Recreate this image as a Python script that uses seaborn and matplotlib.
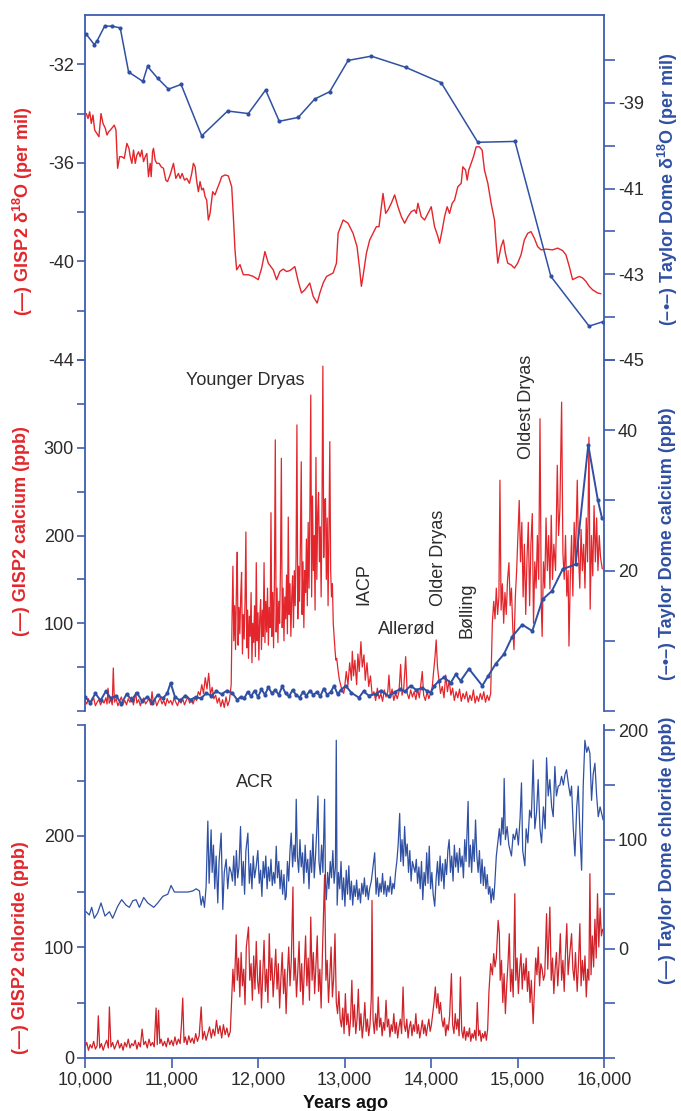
import matplotlib
matplotlib.use("Agg")
import matplotlib.pyplot as plt
import seaborn as sns

sns.set_style("white")
plt.rcParams['font.family'] = ['Liberation Sans', 'DejaVu Sans']
plt.rcParams['axes.unicode_minus'] = False
plt.rcParams['mathtext.fontset'] = 'custom'
plt.rcParams['mathtext.rm'] = 'Liberation Sans'
plt.rcParams['mathtext.bf'] = 'Liberation Sans:bold'

# ---------------- DATA ----------------
# GISP2 d18O (per mil)
gisp_d18o_years = [10015, 10035, 10054, 10073, 10092, 10112, 10138, 10161, 10185, 10208, 10235, 10254, 10273, 10292, 10323, 10338, 10358, 10377, 10400, 10427, 10454, 10484, 10508, 10523, 10542, 10561, 10581, 10600, 10619, 10638, 10657, 10677, 10696, 10715, 10734, 10754, 10765, 10781, 10792, 10811, 10830, 10857, 10881, 10907, 10934, 10954, 10984, 11023, 11050, 11080, 11100, 11123, 11150, 11177, 11207, 11234, 11253, 11273, 11292, 11311, 11330, 11350, 11369, 11388, 11407, 11426, 11446, 11476, 11503, 11523, 11561, 11580, 11619, 11657, 11696, 11715, 11734, 11753, 11792, 11830, 11888, 11946, 12003, 12042, 12080, 12119, 12176, 12215, 12253, 12292, 12330, 12369, 12426, 12465, 12503, 12542, 12599, 12638, 12684, 12715, 12753, 12792, 12830, 12868, 12907, 12926, 12984, 13041, 13099, 13145, 13176, 13195, 13214, 13253, 13291, 13330, 13368, 13399, 13426, 13445, 13476, 13503, 13541, 13580, 13618, 13657, 13695, 13734, 13772, 13811, 13830, 13849, 13887, 13926, 13964, 14003, 14041, 14080, 14099, 14130, 14157, 14187, 14214, 14245, 14272, 14310, 14349, 14368, 14399, 14418, 14437, 14464, 14491, 14522, 14560, 14591, 14618, 14657, 14695, 14734, 14753, 14772, 14810, 14837, 14860, 14887, 14926, 14964, 15002, 15041, 15079, 15118, 15156, 15195, 15233, 15272, 15329, 15406, 15464, 15522, 15560, 15599, 15637, 15676, 15714, 15753, 15791, 15829, 15868, 15925, 15964]
gisp_d18o_vals = [-34.00, -34.20, -33.93, -34.40, -34.06, -34.67, -34.81, -34.94, -34.00, -34.40, -34.60, -34.87, -34.74, -34.67, -34.54, -34.47, -34.67, -36.22, -35.75, -35.75, -35.82, -35.21, -35.41, -35.75, -36.02, -35.48, -36.02, -35.68, -35.55, -35.75, -35.48, -35.95, -35.75, -35.62, -36.56, -36.02, -36.56, -35.55, -35.41, -35.89, -36.02, -36.02, -36.16, -36.22, -36.70, -36.76, -36.49, -36.02, -36.63, -36.43, -36.63, -36.43, -36.70, -36.63, -36.83, -36.43, -36.02, -36.16, -36.76, -37.17, -36.76, -37.10, -37.03, -37.37, -37.51, -38.32, -38.05, -37.17, -37.30, -37.10, -36.76, -36.56, -36.49, -36.53, -36.97, -38.18, -39.53, -40.34, -40.13, -40.54, -40.54, -40.61, -40.74, -40.27, -39.60, -40.07, -40.34, -40.74, -40.41, -40.31, -40.41, -40.37, -40.21, -40.81, -41.28, -41.15, -40.88, -41.42, -41.69, -41.28, -40.88, -40.61, -40.54, -40.47, -40.07, -38.86, -38.32, -38.45, -38.86, -39.40, -40.34, -41.01, -40.61, -39.67, -39.13, -38.86, -38.59, -38.59, -37.78, -37.24, -38.05, -37.91, -37.64, -37.30, -37.78, -38.18, -38.45, -38.18, -37.98, -37.91, -38.05, -37.64, -38.18, -38.32, -38.05, -37.78, -38.59, -38.99, -39.26, -38.72, -38.18, -37.78, -38.05, -37.64, -37.51, -36.97, -36.83, -36.16, -36.29, -36.70, -36.29, -36.02, -35.75, -35.35, -35.35, -35.48, -36.29, -36.83, -37.64, -38.32, -39.26, -40.07, -39.40, -39.13, -39.67, -40.07, -40.14, -40.27, -40.07, -39.73, -39.13, -38.86, -38.79, -39.06, -39.40, -39.53, -39.50, -39.53, -39.46, -39.56, -39.73, -40.21, -40.74, -40.67, -40.61, -40.67, -40.81, -41.01, -41.15, -41.28, -41.31]

# Taylor Dome d18O (per mil)
taylor_d18o_years = [10015, 10107, 10138, 10227, 10311, 10407, 10504, 10669, 10723, 10842, 10965, 11111, 11349, 11649, 11888, 12088, 12246, 12465, 12656, 12829, 13042, 13310, 13706, 14118, 14541, 14971, 15386, 15828, 15983]
taylor_d18o_vals = [-37.40, -37.64, -37.56, -37.21, -37.21, -37.25, -38.28, -38.50, -38.15, -38.43, -38.68, -38.57, -39.77, -39.19, -39.25, -38.70, -39.43, -39.34, -38.91, -38.74, -38.01, -37.91, -38.17, -38.53, -39.92, -39.90, -43.05, -44.21, -44.11]

# GISP2 calcium (ppb)
gisp_ca_years = [10000, 10020, 10040, 10060, 10080, 10100, 10120, 10140, 10160, 10180, 10200, 10220, 10240, 10255, 10266, 10280, 10300, 10315, 10327, 10340, 10360, 10380, 10400, 10420, 10440, 10460, 10480, 10500, 10520, 10540, 10560, 10586, 10600, 10620, 10640, 10660, 10680, 10700, 10720, 10740, 10760, 10775, 10790, 10810, 10830, 10850, 10870, 10890, 10910, 10930, 10950, 10970, 10990, 11010, 11030, 11050, 11070, 11090, 11110, 11130, 11150, 11170, 11190, 11210, 11230, 11250, 11270, 11290, 11310, 11330, 11350, 11370, 11390, 11410, 11430, 11450, 11470, 11490, 11510, 11530, 11550, 11570, 11590, 11610, 11630, 11650, 11670,
                11690, 11700, 11710, 11720, 11730, 11740, 11750, 11760, 11770, 11780, 11790, 11800, 11810, 11820, 11830, 11840, 11850, 11860, 11870, 11880, 11890, 11900, 11910, 11920, 11930, 11940, 11950, 11960, 11970, 11980, 11990, 12000, 12010, 12020, 12030, 12040, 12050, 12060, 12070, 12080, 12090, 12100, 12110, 12120, 12130, 12140, 12150, 12160, 12170, 12180, 12190, 12200, 12210, 12220, 12230, 12240, 12250, 12260, 12270, 12280, 12290, 12300, 12310, 12320, 12330, 12340, 12350, 12360, 12370, 12380, 12390, 12400, 12410, 12420, 12430, 12440, 12450, 12460, 12470, 12480, 12490, 12500, 12510, 12520, 12530, 12540, 12550, 12560, 12570, 12580, 12590, 12600, 12610, 12620, 12630, 12640, 12650, 12660, 12670, 12680, 12690, 12700, 12710, 12720, 12730, 12740, 12750, 12760, 12770, 12780, 12790, 12800, 12810, 12820, 12830, 12840, 12850, 12860, 12870, 12880, 12890, 12900, 12910, 12925, 12940, 12955, 12970, 12990,
                13000, 13020, 13040, 13060, 13080, 13090, 13105, 13120, 13140, 13155, 13170, 13190, 13205, 13225, 13240, 13260, 13280, 13300, 13320, 13340, 13360, 13380, 13400, 13420, 13440, 13460, 13480, 13500, 13514, 13530, 13550, 13570, 13590, 13610, 13630, 13649, 13665, 13685, 13707, 13725, 13745, 13765, 13785, 13805, 13825, 13845, 13865, 13880, 13899, 13915, 13935, 13955, 13975, 13995, 14015, 14030, 14045, 14060, 14075, 14092, 14110, 14130, 14150, 14170, 14190, 14210, 14230, 14250, 14270, 14290, 14310, 14330, 14350, 14370, 14390, 14410, 14430, 14450, 14470, 14490, 14510, 14530, 14550, 14570, 14590, 14610, 14630, 14650, 14670, 14690,
                14709, 14725, 14740, 14755, 14770, 14785, 14797, 14810, 14825, 14840, 14855, 14870, 14885, 14901, 14915, 14930, 14945, 14959, 14975, 14990, 15005, 15020, 15035, 15050, 15065, 15080, 15095, 15110, 15125, 15140, 15155, 15171, 15185, 15200, 15215, 15230, 15245, 15260, 15275, 15285, 15300, 15315, 15330, 15345, 15360, 15375, 15390, 15405, 15420, 15440, 15460, 15475, 15490, 15510, 15525, 15540, 15555, 15570, 15585, 15595, 15610, 15625, 15640, 15655, 15670, 15691, 15705, 15720, 15735, 15750, 15765, 15780, 15795, 15810, 15826, 15840, 15855, 15870, 15885, 15900, 15915, 15930, 15945, 15960, 15980]
gisp_ca_vals = [12, 8, 14, 7, 11, 15, 6, 10, 13, 7, 12, 9, 15, 8, 26, 9, 13, 7, 49, 10, 14, 6, 11, 16, 8, 12, 7, 14, 10, 16, 7, 21, 9, 13, 6, 12, 15, 8, 11, 14, 7, 22, 9, 13, 6, 11, 15, 8, 12, 6, 14, 9, 12, 7, 15, 10, 6, 13, 9, 14, 7, 12, 16, 9, 13, 8, 15, 12, 22, 18, 30, 20, 38, 25, 43, 19, 27, 14, 18, 9, 15, 5, 13, 4, 16, 6, 12,
                30, 105, 165, 80, 120, 70, 135, 181, 75, 118, 88, 130, 158, 65, 110, 82, 125, 204, 72, 115, 60, 108, 85, 135, 55, 100, 78, 120, 62, 169, 80, 112, 58, 105, 127, 70, 115, 85, 169, 78, 125, 90, 140, 75, 118, 95, 226, 85, 135, 72, 150, 309, 90, 140, 78, 125, 100, 165, 288, 95, 140, 80, 130, 105, 155, 88, 221, 110, 145, 85, 130, 154, 95, 160, 120, 175, 326, 105, 165, 125, 190, 284, 110, 170, 95, 160, 135, 196, 120, 215, 140, 230, 360, 130, 245, 160, 200, 115, 289, 150, 225, 249, 170, 210, 130, 235, 393, 175, 240, 242, 150, 220, 120, 200, 307, 160, 130, 145, 100, 85, 70, 58, 60, 47, 36, 30, 24, 20,
                25, 45, 30, 55, 35, 68, 40, 58, 30, 65, 45, 79, 50, 64, 35, 55, 28, 40, 18, 22, 12, 26, 14, 20, 11, 24, 16, 22, 41, 15, 25, 12, 20, 14, 22, 53, 18, 26, 62, 20, 14, 24, 16, 22, 13, 25, 15, 28, 45, 18, 12, 22, 14, 20, 28, 45, 60, 81, 50, 35, 20, 28, 15, 41, 22, 35, 18, 26, 12, 22, 15, 25, 11, 20, 14, 22, 10, 18, 12, 24, 9, 17, 11, 20, 13, 22, 10, 18, 12, 20,
                100, 125, 105, 140, 110, 130, 263, 115, 145, 100, 135, 110, 150, 169, 120, 140, 95, 70, 130, 160, 200, 240, 170, 215, 130, 190, 110, 175, 215, 120, 190, 225, 100, 170, 140, 200, 150, 333, 120, 85, 170, 140, 220, 160, 200, 139, 223, 150, 190, 160, 280, 200, 230, 352, 180, 150, 200, 131, 160, 74, 150, 200, 131, 215, 170, 263, 180, 140, 207, 160, 190, 140, 220, 170, 312, 116, 200, 154, 234, 170, 220, 160, 200, 175, 162]

# Taylor Dome calcium (ppb)
taylor_ca_years = [10000, 10060, 10120, 10180, 10240, 10300, 10360, 10420, 10480, 10540, 10600, 10660, 10720, 10780, 10840, 10900, 10950, 10990, 11040, 11100, 11160, 11220, 11280, 11340, 11400, 11460, 11520, 11580, 11640, 11700, 11760, 11800, 11840, 11880, 11920, 11960, 12000, 12040, 12080, 12120, 12160, 12200, 12240, 12280, 12320, 12360, 12400, 12440, 12480, 12520, 12560, 12600, 12640, 12680, 12720, 12760, 12800, 12840, 12880, 12920, 12960, 13013, 13080, 13167, 13220, 13280, 13360, 13420, 13514, 13580, 13640, 13700, 13764, 13830, 13899, 13950, 13996, 14040, 14092, 14150, 14227, 14285, 14342, 14439, 14593, 14662, 14747, 14843, 14939, 15055, 15171, 15290, 15398, 15522, 15672, 15818, 15928, 15976]
taylor_ca_vals = [2.0, 1.2, 2.5, 1.5, 2.8, 1.8, 2.2, 1.0, 2.4, 1.6, 2.6, 1.4, 2.0, 1.2, 2.3, 1.8, 2.5, 4.0, 2.0, 1.5, 2.2, 1.6, 2.0, 1.8, 2.5, 2.2, 2.8, 2.4, 2.9, 2.6, 1.6, 2.0, 1.8, 2.7, 2.1, 2.9, 2.0, 3.1, 2.3, 3.4, 2.5, 3.0, 2.3, 3.5, 2.5, 2.1, 3.0, 2.3, 1.9, 2.7, 2.2, 2.9, 2.3, 2.7, 2.1, 3.2, 2.3, 2.7, 3.6, 2.4, 3.0, 3.6, 2.6, 1.9, 2.8, 2.2, 2.4, 2.9, 2.1, 2.7, 3.1, 2.8, 3.6, 3.0, 3.3, 2.9, 2.6, 3.6, 4.3, 4.8, 4.0, 5.2, 4.3, 6.0, 3.6, 5.0, 6.7, 8.1, 10.6, 12.3, 11.4, 15.9, 17.1, 20.2, 20.9, 37.9, 30.1, 27.5]

# GISP2 chloride (ppb)
gisp_cl_years = [10000, 10020, 10040, 10060, 10080, 10100, 10120, 10140, 10154, 10170, 10190, 10210, 10230, 10250, 10270, 10282, 10300, 10320, 10340, 10360, 10380, 10400, 10420, 10440, 10460, 10480, 10500, 10520, 10540, 10560, 10580, 10600, 10620, 10640, 10660, 10680, 10700, 10720, 10740, 10760, 10780, 10800, 10822, 10835, 10850, 10865, 10880, 10900, 10920, 10940, 10960, 10980, 11000, 11020, 11040, 11060, 11080, 11100, 11115, 11130, 11145, 11160, 11180, 11200, 11220, 11240, 11260, 11280, 11300, 11320, 11343, 11360, 11380, 11400, 11420, 11440, 11460, 11480, 11500, 11520, 11540, 11560, 11580, 11600, 11620, 11640, 11660, 11680,
                11695, 11710, 11725, 11748, 11760, 11775, 11790, 11805, 11820, 11835, 11850, 11865, 11890, 11905, 11920, 11935, 11950, 11965, 11980, 11995, 12010, 12025, 12040, 12055, 12070, 12085, 12100, 12115, 12130, 12145, 12160, 12175, 12190, 12205, 12220, 12235, 12250, 12265, 12280, 12295, 12310, 12325, 12340, 12355, 12370, 12385, 12404, 12415, 12430, 12445, 12460, 12475, 12490, 12505, 12520, 12535, 12550, 12565, 12580, 12595, 12610, 12625, 12640, 12655, 12670, 12685, 12700, 12715, 12730, 12745, 12770, 12785, 12800, 12815, 12830, 12845, 12860, 12875, 12890, 12905, 12920, 12935, 12950,
                12965, 12980, 12995, 13010, 13025, 13040, 13055, 13070, 13085, 13100, 13115, 13130, 13145, 13160, 13175, 13190, 13205, 13220, 13235, 13250, 13265, 13280, 13295, 13310, 13318, 13330, 13345, 13360, 13375, 13390, 13405, 13420, 13435, 13450, 13465, 13480, 13495, 13510, 13525, 13540, 13555, 13570, 13585, 13600, 13615, 13630, 13645, 13660, 13677, 13690, 13705, 13720, 13735, 13750, 13765, 13780, 13795, 13810, 13825, 13840, 13855, 13870, 13885, 13900, 13915, 13930, 13945, 13960, 13975, 13990, 14005, 14020, 14035, 14050, 14065, 14080, 14095, 14110, 14125, 14140, 14155, 14170, 14185, 14200, 14215, 14236, 14250, 14265, 14280, 14295, 14310, 14325, 14340, 14355, 14370, 14385, 14400, 14415, 14430, 14445, 14460, 14475, 14490, 14505, 14520, 14535, 14550, 14565, 14580, 14595, 14610, 14625, 14640, 14655,
                14670, 14690, 14710, 14725, 14740, 14755, 14776, 14790, 14800, 14815, 14830, 14845, 14860, 14875, 14890, 14905, 14920, 14935, 14950, 14969, 14980, 14995, 15010, 15025, 15040, 15055, 15070, 15085, 15100, 15115, 15130, 15145, 15160, 15181, 15195, 15210, 15225, 15240, 15255, 15270, 15285, 15300, 15315, 15336, 15350, 15374, 15390, 15405, 15420, 15435, 15450, 15465, 15480, 15495, 15510, 15525, 15540, 15555, 15570, 15585, 15600, 15625, 15640, 15655, 15670, 15690, 15705, 15721, 15735, 15750, 15765, 15780, 15795, 15810, 15825, 15837, 15850, 15865, 15880, 15895, 15910, 15925, 15940, 15955, 15970, 15985]
gisp_cl_vals = [10, 14, 7, 12, 9, 15, 8, 11, 38, 9, 13, 7, 12, 16, 9, 46, 10, 14, 8, 12, 16, 9, 13, 7, 14, 10, 17, 9, 13, 11, 16, 8, 14, 10, 26, 12, 15, 9, 17, 11, 14, 10, 45, 12, 43, 13, 17, 11, 15, 10, 18, 12, 16, 11, 19, 12, 17, 13, 30, 54, 14, 19, 12, 20, 14, 18, 13, 22, 15, 20, 46, 17, 24, 16, 22, 28, 18, 26, 20, 34, 22, 29, 18, 30, 21, 27, 19, 24,
                52, 80, 60, 111, 70, 90, 55, 95, 65, 80, 48, 100, 118, 70, 85, 52, 92, 62, 105, 70, 58, 88, 45, 75, 106, 60, 80, 50, 112, 70, 90, 55, 75, 98, 62, 85, 45, 72, 95, 58, 80, 40, 75, 100, 65, 88, 154, 70, 90, 55, 78, 105, 60, 85, 48, 80, 110, 65, 90, 52, 127, 70, 95, 58, 85, 110, 60, 80, 45, 95, 165, 70, 88, 50, 75, 100, 55, 72, 112, 50, 40, 60, 35,
                28, 45, 22, 58, 30, 40, 20, 35, 70, 28, 48, 22, 35, 62, 25, 40, 18, 30, 50, 24, 35, 20, 30, 55, 142, 35, 22, 40, 25, 55, 28, 36, 20, 32, 25, 52, 28, 35, 19, 30, 24, 40, 22, 32, 18, 28, 35, 22, 64, 30, 24, 35, 18, 28, 33, 20, 30, 24, 40, 22, 30, 18, 26, 34, 22, 30, 20, 28, 35, 24, 30, 40, 50, 64, 45, 58, 40, 50, 35, 28, 36, 20, 30, 25, 38, 76, 30, 22, 40, 26, 35, 20, 73, 25, 18, 28, 16, 24, 19, 27, 15, 22, 18, 25, 16, 50, 20, 25, 15, 22, 18, 24, 16, 26,
                60, 85, 75, 94, 82, 90, 124, 112, 70, 88, 50, 76, 40, 65, 85, 112, 60, 80, 55, 148, 70, 90, 58, 80, 94, 62, 85, 70, 90, 60, 78, 50, 70, 31, 60, 90, 75, 100, 65, 85, 80, 70, 75, 130, 80, 136, 70, 90, 58, 80, 95, 65, 85, 112, 70, 88, 60, 95, 121, 75, 90, 112, 80, 70, 95, 60, 85, 121, 65, 88, 70, 92, 55, 80, 70, 166, 75, 110, 82, 125, 90, 148, 100, 135, 110, 116]

# Taylor Dome chloride (ppb)
taylor_cl_years = [10012, 10050, 10077, 10108, 10147, 10185, 10231, 10282, 10320, 10378, 10424, 10475, 10513, 10552, 10590, 10629, 10679, 10725, 10795, 10841, 10899, 10957, 10995, 11034, 11111, 11188, 11246, 11285, 11323, 11343, 11362, 11381,
                   11400, 11420, 11435, 11458, 11470, 11485, 11500, 11516, 11535, 11550, 11574, 11593, 11610, 11632, 11650, 11670, 11690, 11705, 11720, 11735, 11750, 11765, 11780, 11798, 11815, 11830, 11845, 11860, 11883, 11900, 11915, 11930, 11945, 11960, 11980, 11998, 12015, 12030, 12045, 12060, 12075, 12090, 12105, 12120, 12135, 12150, 12165, 12180, 12195, 12211, 12225, 12240, 12255, 12270, 12285, 12300, 12315, 12326, 12340, 12355, 12370, 12384, 12400, 12415, 12430, 12442, 12455, 12470, 12485, 12500, 12515, 12530, 12545, 12560, 12575, 12590, 12605, 12620, 12635, 12650, 12665, 12680, 12693, 12705, 12720, 12735, 12750, 12770, 12780, 12790, 12805, 12820, 12835, 12850, 12865, 12880, 12895, 12905, 12915, 12930, 12945, 12960,
                   12975, 12990, 13005, 13020, 13035, 13050, 13065, 13080, 13095, 13110, 13125, 13140, 13155, 13170, 13185, 13200, 13215, 13230, 13245, 13260, 13275, 13290, 13310, 13349, 13365, 13380, 13395, 13410, 13425, 13440, 13455, 13470, 13485, 13500, 13515, 13530, 13545, 13560, 13575, 13590, 13605, 13620, 13638, 13650, 13665, 13680, 13695, 13710, 13725, 13740, 13755, 13770, 13785, 13800, 13815, 13830, 13845, 13860, 13875, 13890, 13905, 13920, 13935, 13950, 13965, 13980, 13995, 14010, 14025, 14043, 14060, 14075, 14090, 14105, 14120, 14135, 14150, 14165, 14180, 14195, 14210, 14225, 14240, 14255, 14270, 14285, 14300, 14315, 14330, 14345, 14360, 14375, 14390, 14405, 14429, 14440, 14455, 14470, 14485, 14500, 14515, 14530, 14545, 14560, 14575, 14590, 14605, 14620, 14635, 14650, 14665, 14680, 14695, 14710, 14725, 14738,
                   14755, 14776, 14790, 14805, 14820, 14835, 14846, 14860, 14880, 14900, 14930, 14950, 14969, 14990, 15010, 15030, 15046, 15060, 15085, 15100, 15120, 15140, 15160, 15181, 15200, 15220, 15239, 15260, 15278, 15300, 15320, 15336, 15355, 15374, 15395, 15413, 15432, 15450, 15471, 15490, 15509, 15530, 15550, 15567, 15590, 15610, 15625, 15645, 15664, 15685, 15702, 15720, 15741, 15760, 15779, 15800, 15818, 15837, 15856, 15875, 15895, 15915, 15934, 15955, 15972, 15990]
taylor_cl_vals = [34, 31, 38, 28, 33, 42, 30, 34, 28, 39, 45, 40, 38, 44, 45, 38, 47, 42, 38, 42, 48, 50, 58, 52, 52, 52, 53, 55, 53, 40, 48, 38,
                  57, 117, 60, 109, 70, 95, 55, 85, 42, 80, 106, 36, 70, 82, 55, 75, 70, 62, 85, 58, 90, 65, 75, 112, 58, 80, 50, 90, 106, 60, 78, 55, 85, 65, 76, 90, 60, 72, 48, 80, 65, 85, 55, 75, 62, 82, 58, 70, 60, 94, 65, 80, 55, 72, 50, 68, 45, 48, 80, 62, 90, 106, 75, 95, 80, 137, 85, 70, 100, 75, 88, 60, 95, 70, 82, 55, 90, 70, 105, 65, 85, 110, 140, 80, 68, 95, 70, 137, 60, 45, 70, 55, 80, 65, 90, 60, 75, 191, 40, 70, 55, 80,
                  45, 65, 39, 72, 50, 76, 45, 62, 40, 58, 48, 63, 45, 55, 42, 60, 50, 65, 48, 58, 45, 55, 62, 88, 50, 65, 48, 60, 52, 69, 50, 62, 48, 58, 52, 66, 50, 60, 55, 70, 80, 95, 124, 80, 100, 76, 112, 85, 96, 70, 90, 62, 80, 75, 70, 82, 60, 75, 55, 80, 45, 70, 58, 88, 60, 94, 55, 70, 50, 39, 65, 80, 58, 85, 62, 78, 55, 82, 68, 90, 100, 70, 85, 62, 95, 75, 88, 70, 92, 75, 85, 65, 100, 80, 135, 75, 95, 70, 100, 80, 118, 85, 70, 90, 60, 82, 58, 75, 55, 68, 50, 57, 42, 55, 45, 60,
                  85, 100, 110, 95, 120, 105, 156, 100, 112, 95, 85, 105, 100, 110, 95, 120, 152, 90, 76, 110, 97, 127, 120, 173, 110, 125, 155, 110, 97, 130, 110, 175, 140, 155, 130, 121, 167, 140, 149, 150, 158, 150, 160, 164, 150, 140, 149, 110, 85, 130, 149, 110, 72, 150, 191, 180, 185, 179, 136, 160, 170, 140, 121, 130, 124, 118]

x_ticks = [10000, 11000, 12000, 13000, 14000, 15000, 16000]
x_tick_labels = ['10,000', '11,000', '12,000', '13,000', '14,000', '15,000', '16,000']

events_mid = ['Younger Dryas', 'IACP', 'Allerød', 'Older Dryas', 'Bølling', 'Oldest Dryas']

# ---------------- STYLE ----------------
RED = '#e3262b'
RED_DARK = '#cf2229'
BLUE = '#2f50a3'
SPINE = '#3f5db0'
TXT = '#2b2b2b'
FS = 13

fig = plt.figure(figsize=(6.81, 11.11), dpi=100)
fig.patch.set_facecolor('white')
L = 85 / 681
W = 519 / 681
ax1 = fig.add_axes([L, 1 - 360 / 1111, W, 345 / 1111])
ax2 = fig.add_axes([L, 1 - 711 / 1111, W, 351 / 1111], sharex=ax1)
ax3 = fig.add_axes([L, 1 - 1058 / 1111, W, 333 / 1111], sharex=ax1)
ax1r = ax1.twinx()
ax2r = ax2.twinx()
ax3r = ax3.twinx()

# ---------------- PLOTS ----------------
sns.lineplot(x=gisp_d18o_years, y=gisp_d18o_vals, ax=ax1, color=RED, lw=1.0,
             estimator=None, sort=False)
sns.lineplot(x=taylor_d18o_years, y=taylor_d18o_vals, ax=ax1r, color=BLUE, lw=1.1,
             marker='o', markersize=3, markeredgewidth=0, estimator=None, sort=False)

sns.lineplot(x=gisp_ca_years, y=gisp_ca_vals, ax=ax2, color=RED, lw=0.9,
             estimator=None, sort=False)
sns.lineplot(x=taylor_ca_years, y=taylor_ca_vals, ax=ax2r, color=BLUE, lw=1.4,
             marker='o', markersize=3, markeredgewidth=0, estimator=None, sort=False)

sns.lineplot(x=gisp_cl_years, y=gisp_cl_vals, ax=ax3, color=RED_DARK, lw=0.9,
             estimator=None, sort=False)
sns.lineplot(x=taylor_cl_years, y=taylor_cl_vals, ax=ax3r, color=BLUE, lw=0.9,
             estimator=None, sort=False)

# ---------------- AXES ----------------
ax1.set_xlim(10000, 16000)
ax1.set_ylim(-44, -30)
ax1r.set_ylim(-45, -36.95)
ax2.set_ylim(0, 400)
ax2r.set_ylim(0, 50)
ax3.set_ylim(0, 300)
ax3r.set_ylim(-100, 205)

ax1.set_yticks([-44, -42, -40, -38, -36, -34, -32], ['-44', '', '-40', '', '-36', '', '-32'])
ax1r.set_yticks([-45, -44, -43, -42, -41, -40, -39, -38], ['-45', '', '-43', '', '-41', '', '-39', ''])
ax2.set_yticks([0, 50, 100, 150, 200, 250, 300, 350, 400], ['', '', '100', '', '200', '', '300', '', ''])
ax2r.set_yticks([0, 10, 20, 30, 40, 50], ['', '', '20', '', '40', ''])
ax3.set_yticks([0, 50, 100, 150, 200, 250, 300], ['0', '', '100', '', '200', '', ''])
ax3r.set_yticks([-100, -50, 0, 50, 100, 150, 200], ['', '', '0', '', '100', '', '200'])
ax3.set_xticks(x_ticks, x_tick_labels)

for a in (ax1, ax2, ax3, ax1r, ax2r, ax3r):
    a.set_facecolor('none')
    a.set_xlabel('')
    a.set_ylabel('')
    for s in a.spines.values():
        s.set_color(SPINE)
        s.set_linewidth(1.3)
        s.set_visible(False)
    a.tick_params(axis='both', direction='out', length=6, width=1.2, color=SPINE,
                  labelcolor=TXT, labelsize=FS, pad=2)

for a in (ax1, ax2, ax3):
    a.spines['left'].set_visible(True)
for a in (ax1r, ax2r, ax3r):
    a.spines['right'].set_visible(True)
    a.tick_params(axis='y', length=8)
ax1.spines['top'].set_visible(True)
ax3.spines['bottom'].set_visible(True)

ax1.tick_params(axis='x', bottom=False, labelbottom=False)
ax2.tick_params(axis='x', bottom=False, labelbottom=False)
ax3.tick_params(axis='x', bottom=True, labelbottom=True, length=7, pad=3)

# ---------------- TEXT ----------------
ax2.text(11858, 377, events_mid[0], fontsize=FS, color=TXT, ha='center', va='center')
ax2.text(13225, 145, events_mid[1], fontsize=FS, color=TXT, ha='center', va='center', rotation=90)
ax2.text(13715, 93, events_mid[2], fontsize=FS, color=TXT, ha='center', va='center')
ax2.text(14092, 174, events_mid[3], fontsize=FS, color=TXT, ha='center', va='center', rotation=90)
ax2.text(14412, 115, events_mid[4], fontsize=FS, color=TXT, ha='center', va='center', rotation=90)
ax2.text(15106, 347, events_mid[5], fontsize=FS, color=TXT, ha='center', va='center', rotation=90)
ax3.text(11968, 248, 'ACR', fontsize=FS, color=TXT, ha='center', va='center')

def ftext(xpx, ypx, s, color):
    fig.text(xpx / 681, 1 - ypx / 1111, s, rotation=90, ha='center', va='center',
             fontsize=FS, fontweight='bold', color=color)

ftext(23, 211, r'(—) GISP2 δ$^{\mathbf{18}}$O (per mil)', RED)
ftext(22, 531, '(—) GISP2 calcium (ppb)', RED)
ftext(21, 948, '(—) GISP2 chloride (ppb)', RED)
ftext(668, 189, r'(–•–) Taylor Dome δ$^{\mathbf{18}}$O (per mil)', BLUE)
ftext(668, 544, '(–•–) Taylor Dome calcium (ppb)', BLUE)
ftext(668, 850, '(—) Taylor Dome chloride (ppb)', BLUE)

fig.text(345 / 681, 1 - 1103 / 1111, 'Years ago', ha='center', va='center',
         fontsize=FS, fontweight='bold', color='#111111')

fig.savefig('out.png', dpi=100, facecolor='white')
